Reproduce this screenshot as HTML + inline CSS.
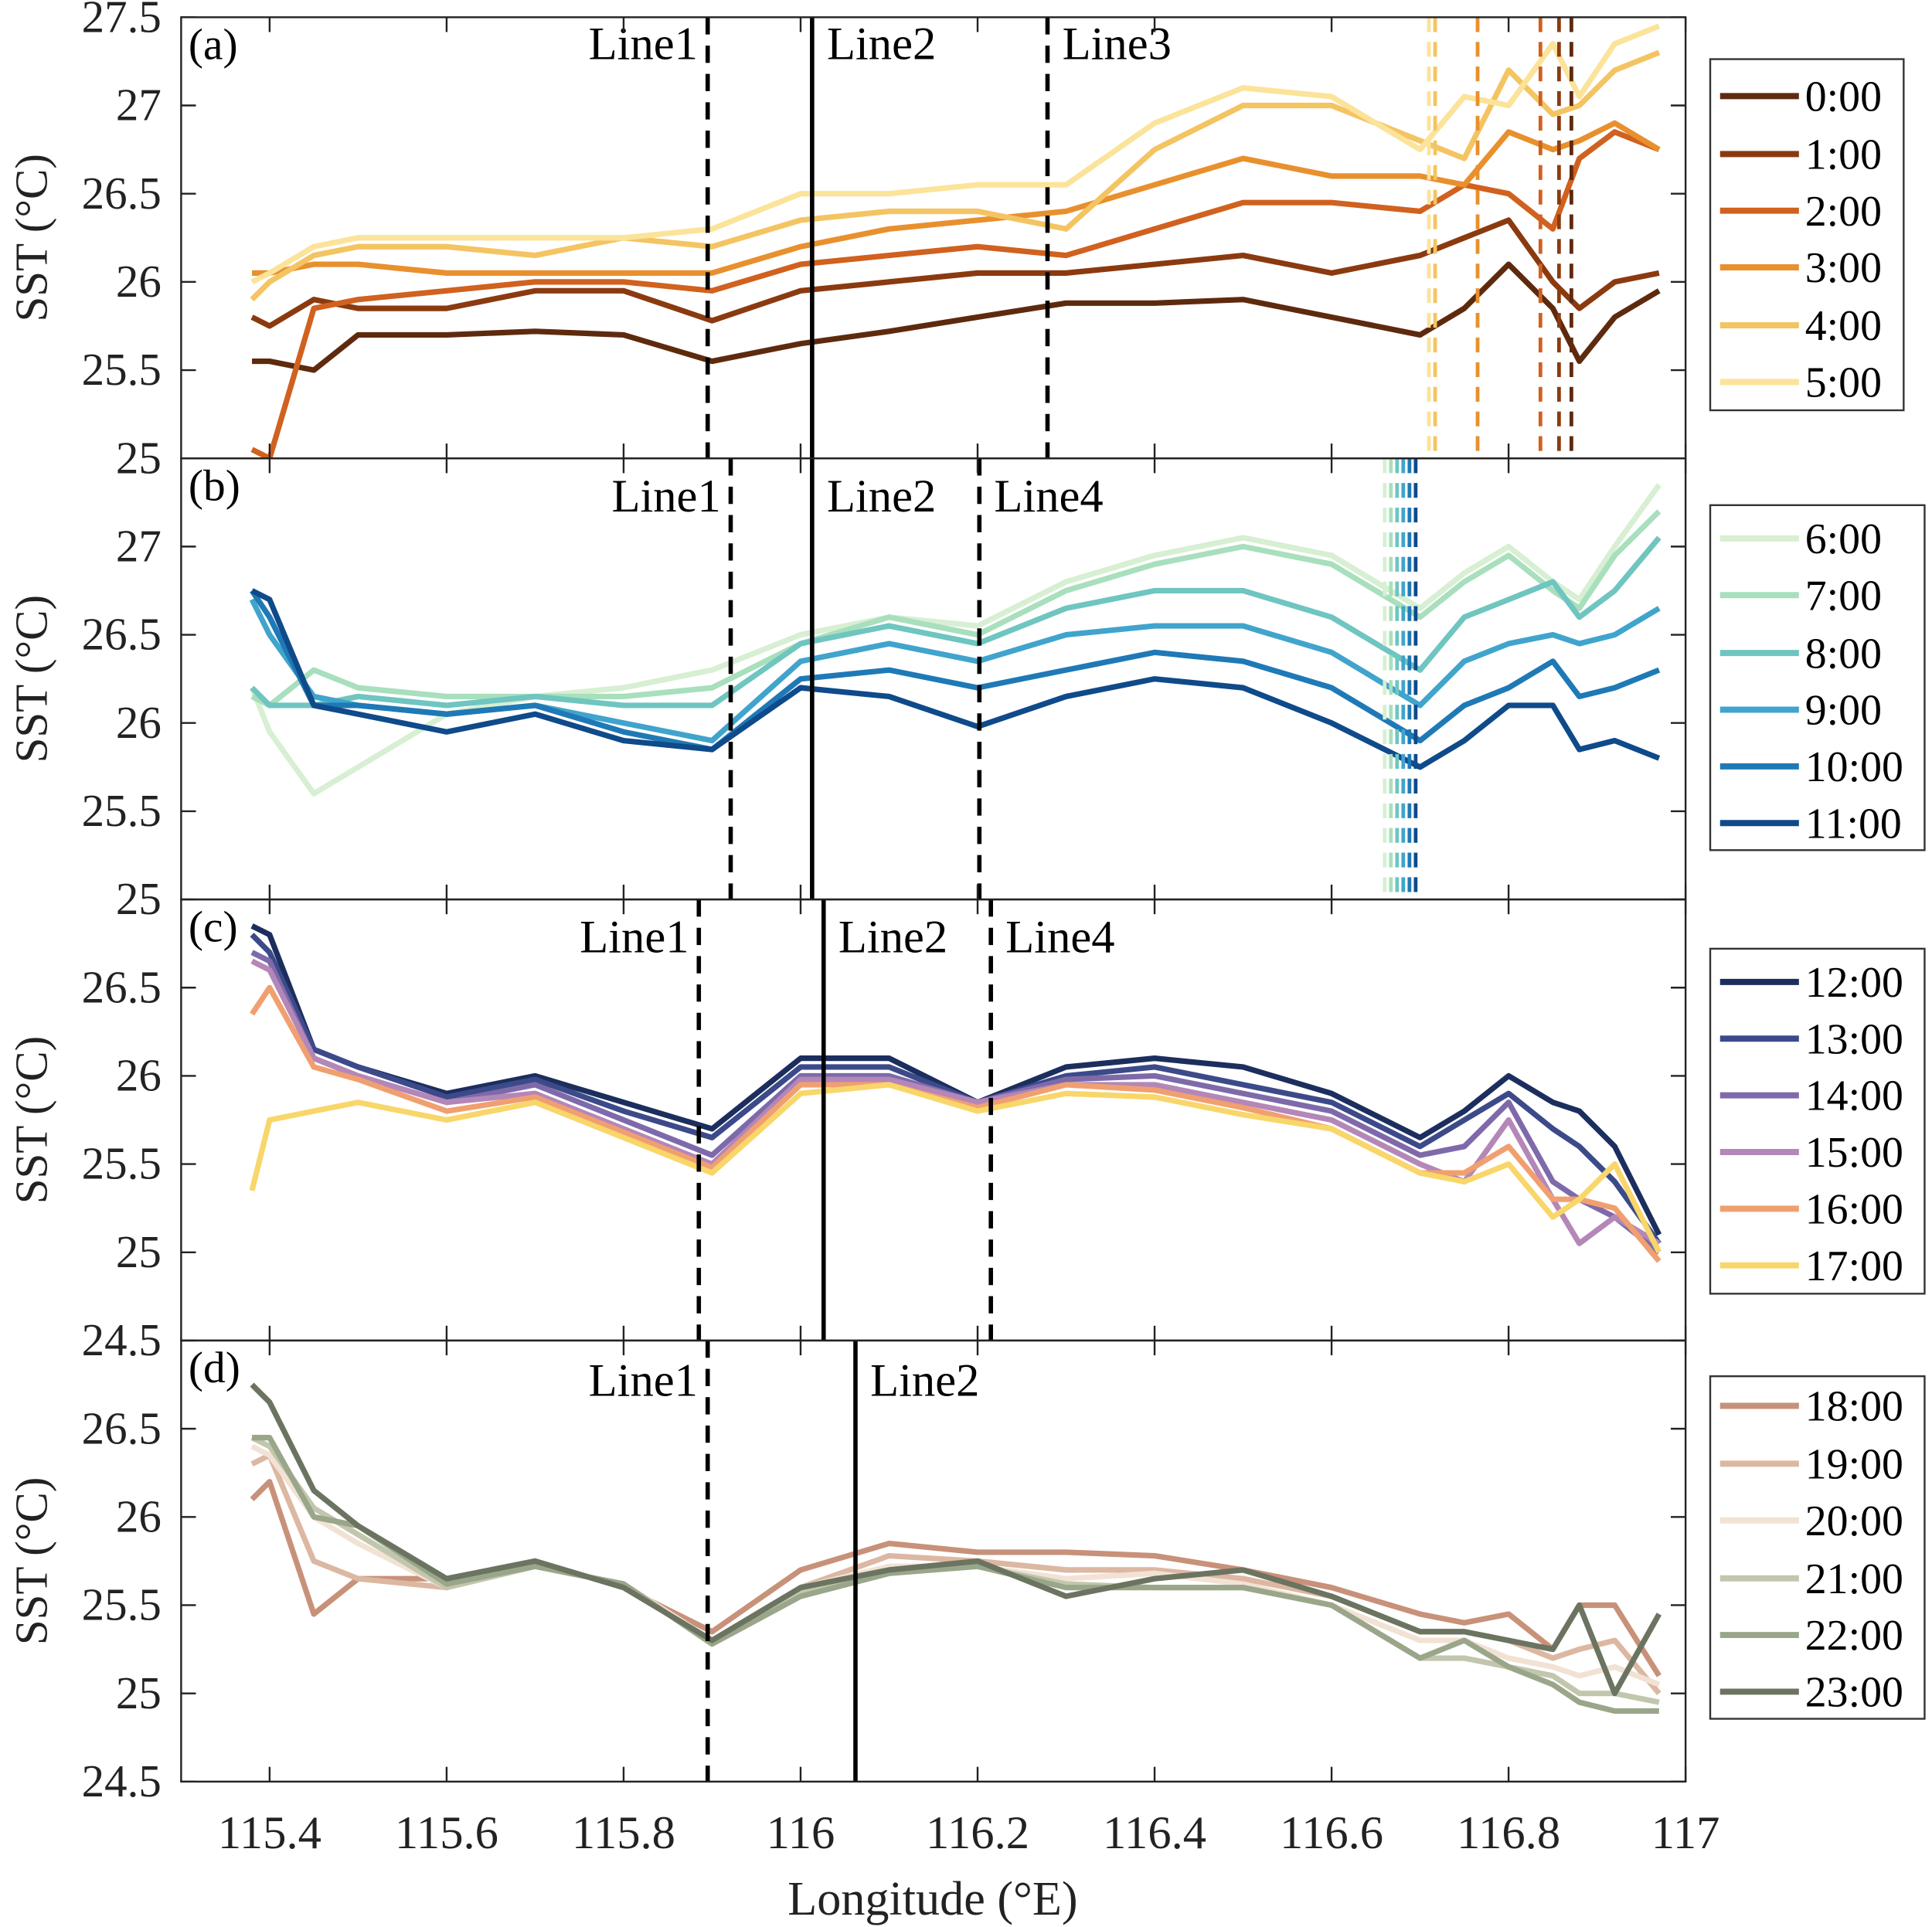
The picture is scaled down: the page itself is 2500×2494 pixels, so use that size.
<!DOCTYPE html>
<html><head><meta charset="utf-8"><style>
html,body{margin:0;padding:0;background:#fff;}
svg{display:block;font-family:"Liberation Serif",serif;}
</style></head><body>
<svg id="chart" width="2500" height="2494" viewBox="0 0 1568 1564" preserveAspectRatio="none" xmlns="http://www.w3.org/2000/svg">
<rect width="1568" height="1564" fill="#fff"/>
</svg>
<script>
const lons=[115.38,115.4,115.45,115.5,115.6,115.7,115.8,115.9,116.0,116.1,116.2,116.3,116.4,116.5,116.6,116.7,116.75,116.8,116.85,116.88,116.92,116.97];
const xTicks=[115.4,115.6,115.8,116,116.2,116.4,116.6,116.8,117];
const xTickLabels=["115.4","115.6","115.8","116","116.2","116.4","116.6","116.8","117"];
const labelsA=["0:00","1:00","2:00","3:00","4:00","5:00"];
const labelsB=["6:00","7:00","8:00","9:00","10:00","11:00"];
const labelsC=["12:00","13:00","14:00","15:00","16:00","17:00"];
const labelsD=["18:00","19:00","20:00","21:00","22:00","23:00"];
const seriesA=[
[25.55,25.55,25.5,25.7,25.7,25.72,25.7,25.55,25.65,25.72,25.8,25.88,25.88,25.9,25.8,25.7,25.85,26.1,25.85,25.55,25.8,25.95],
[25.8,25.75,25.9,25.85,25.85,25.95,25.95,25.78,25.95,26.0,26.05,26.05,26.1,26.15,26.05,26.15,26.25,26.35,26.0,25.85,26.0,26.05],
[25.05,25.0,25.85,25.9,25.95,26.0,26.0,25.95,26.1,26.15,26.2,26.15,26.3,26.45,26.45,26.4,26.55,26.5,26.3,26.7,26.85,26.75],
[26.05,26.05,26.1,26.1,26.05,26.05,26.05,26.05,26.2,26.3,26.35,26.4,26.55,26.7,26.6,26.6,26.55,26.85,26.75,26.8,26.9,26.75],
[25.9,26.0,26.15,26.2,26.2,26.15,26.25,26.2,26.35,26.4,26.4,26.3,26.75,27.0,27.0,26.8,26.7,27.2,26.95,27.0,27.2,27.3],
[26.0,26.05,26.2,26.25,26.25,26.25,26.25,26.3,26.5,26.5,26.55,26.55,26.9,27.1,27.05,26.75,27.05,27.0,27.35,27.05,27.35,27.45]];
const seriesB=[
[26.2,25.95,25.6,25.75,26.05,26.15,26.2,26.3,26.5,26.6,26.55,26.8,26.95,27.05,26.95,26.65,26.85,27.0,26.8,26.7,27.0,27.35],
[26.15,26.1,26.3,26.2,26.15,26.15,26.15,26.2,26.45,26.6,26.5,26.75,26.9,27.0,26.9,26.6,26.8,26.95,26.75,26.65,26.95,27.2],
[26.2,26.1,26.1,26.15,26.1,26.15,26.1,26.1,26.45,26.55,26.45,26.65,26.75,26.75,26.6,26.3,26.6,26.7,26.8,26.6,26.75,27.05],
[26.7,26.5,26.15,26.1,26.05,26.1,26.0,25.9,26.35,26.45,26.35,26.5,26.55,26.55,26.4,26.1,26.35,26.45,26.5,26.45,26.5,26.65],
[26.75,26.6,26.1,26.1,26.05,26.1,25.95,25.85,26.25,26.3,26.2,26.3,26.4,26.35,26.2,25.9,26.1,26.2,26.35,26.15,26.2,26.3],
[26.75,26.7,26.1,26.05,25.95,26.05,25.9,25.85,26.2,26.15,25.98,26.15,26.25,26.2,26.0,25.75,25.9,26.1,26.1,25.85,25.9,25.8]];
const seriesC=[
[26.85,26.8,26.15,26.05,25.9,26.0,25.85,25.7,26.1,26.1,25.85,26.05,26.1,26.05,25.9,25.65,25.8,26.0,25.85,25.8,25.6,25.1],
[26.8,26.7,26.15,26.05,25.88,25.98,25.8,25.65,26.05,26.05,25.85,26.0,26.05,25.95,25.85,25.6,25.75,25.9,25.7,25.6,25.4,25.05],
[26.7,26.65,26.1,26.0,25.85,25.95,25.75,25.55,26.0,26.0,25.85,25.98,26.0,25.9,25.8,25.55,25.6,25.85,25.4,25.3,25.2,25.0],
[26.65,26.6,26.1,26.0,25.85,25.9,25.7,25.5,25.98,25.98,25.85,25.95,25.95,25.85,25.75,25.5,25.4,25.75,25.3,25.05,25.2,25.05],
[26.35,26.5,26.05,25.98,25.8,25.88,25.68,25.48,25.95,25.95,25.82,25.95,25.92,25.82,25.7,25.45,25.45,25.6,25.3,25.3,25.25,24.95],
[25.35,25.75,25.8,25.85,25.75,25.85,25.65,25.45,25.9,25.95,25.8,25.9,25.88,25.78,25.7,25.45,25.4,25.5,25.2,25.3,25.5,25.0]];
const seriesD=[
[26.1,26.2,25.45,25.65,25.65,25.75,25.6,25.35,25.7,25.85,25.8,25.8,25.78,25.7,25.6,25.45,25.4,25.45,25.25,25.5,25.5,25.1],
[26.3,26.35,25.75,25.65,25.6,25.75,25.6,25.3,25.6,25.78,25.75,25.7,25.7,25.65,25.55,25.35,25.35,25.3,25.2,25.25,25.3,25.0],
[26.4,26.35,26.0,25.85,25.6,25.72,25.62,25.3,25.6,25.72,25.72,25.65,25.68,25.62,25.5,25.3,25.3,25.2,25.15,25.1,25.15,25.05],
[26.45,26.4,26.05,25.9,25.6,25.72,25.62,25.28,25.58,25.7,25.72,25.62,25.6,25.6,25.5,25.2,25.2,25.15,25.1,25.0,25.0,24.95],
[26.45,26.45,26.0,25.95,25.62,25.72,25.62,25.28,25.55,25.68,25.72,25.6,25.6,25.6,25.5,25.2,25.3,25.15,25.05,24.95,24.9,24.9],
[26.75,26.65,26.15,25.95,25.65,25.75,25.6,25.3,25.6,25.7,25.75,25.55,25.65,25.7,25.55,25.35,25.35,25.3,25.25,25.5,25.0,25.45]];
const colorsA=["#5e2a0e","#8b3a10","#d0611f","#e8902e","#f4c462","#fbe39a"];
const colorsB=["#d7efd2","#a8dfbd","#6fc5c0","#40a4cc","#1f79b6","#0f4a8a"];
const colorsC=["#1c2e5e","#3c4a8a","#7e6aaa","#b487b8","#f0a070","#f8d66a"];
const colorsD=["#c8917a","#dcb7a2","#f2e2d4","#c2c6ad","#9aa68a","#6b7460"];
const linesA=[{lon:115.895,label:"Line1",dash:true},{lon:116.013,label:"Line2",dash:false},{lon:116.279,label:"Line3",dash:true}];
const linesB=[{lon:115.921,label:"Line1",dash:true},{lon:116.013,label:"Line2",dash:false},{lon:116.202,label:"Line4",dash:true}];
const linesC=[{lon:115.885,label:"Line1",dash:true},{lon:116.026,label:"Line2",dash:false},{lon:116.215,label:"Line4",dash:true}];
const linesD=[{lon:115.895,label:"Line1",dash:true},{lon:116.062,label:"Line2",dash:false}];
const markA=[116.71,116.717,116.765,116.836,116.857,116.871];
const markAColors=["#fbe39a","#f4c462","#e8902e","#d0611f","#8b3a10","#5e2a0e"];
const markB=[116.66,116.667,116.674,116.681,116.688,116.695];

const NS="http://www.w3.org/2000/svg";
const svg=document.getElementById('chart');
const X0=147,X1=1368,LON0=115.3,LON1=117;
const xs=v=>X0+(v-LON0)/(LON1-LON0)*(X1-X0);
function mk(tag,attrs,parent){const e=document.createElementNS(NS,tag);for(const k in attrs)e.setAttribute(k,attrs[k]);(parent||svg).appendChild(e);return e;}
const panels=[
{id:"a",top:14,bot:372,ymin:25,ymax:27.5,ticks:[25,25.5,26,26.5,27,27.5],series:seriesA,labels:labelsA,colors:colorsA,lines:linesA,marks:markA,markColors:markAColors,leg:{x:1388,y:48,w:157,h:285,rows:[78,125,171,217,264,310]},lab:55},
{id:"b",top:372,bot:730,ymin:25,ymax:27.5,ticks:[25,25.5,26,26.5,27],series:seriesB,labels:labelsB,colors:colorsB,lines:linesB,marks:markB,markColors:colorsB,leg:{x:1388,y:410,w:174,h:280,rows:[437,483,530,576,622,668]},lab:415},
{id:"c",top:730,bot:1088,ymin:24.5,ymax:27,ticks:[24.5,25,25.5,26,26.5],series:seriesC,labels:labelsC,colors:colorsC,lines:linesC,marks:[],markColors:[],leg:{x:1388,y:770,w:174,h:280,rows:[797,843,889,935,981,1027]},lab:773},
{id:"d",top:1088,bot:1446,ymin:24.5,ymax:27,ticks:[24.5,25,25.5,26,26.5],series:seriesD,labels:labelsD,colors:colorsD,lines:linesD,marks:[],markColors:[],leg:{x:1388,y:1117,w:174,h:278,rows:[1141,1188,1234,1281,1327,1373]},lab:1133}];
panels.forEach(p=>{
  const g=mk('g',{});
  
  
  const ys=v=>p.bot-(v-p.ymin)/(p.ymax-p.ymin)*(p.bot-p.top);
  const cp=mk('clipPath',{id:'cp'+p.id},g);mk('rect',{x:X0,y:p.top,width:X1-X0,height:p.bot-p.top},cp);
  const sg=mk('g',{'clip-path':'url(#cp'+p.id+')'},g);
  p.series.forEach((s,i)=>{
    const pl=mk('polyline',{points:s.map((v,j)=>xs(lons[j]).toFixed(1)+','+ys(v).toFixed(1)).join(' '),fill:'none',stroke:p.colors[i],'stroke-width':4.5,'stroke-linejoin':'round'},sg);
    
    
  });
  p.marks.forEach((m,i)=>{
    const l=mk('line',{x1:xs(m),x2:xs(m),y1:p.top,y2:p.bot,stroke:p.markColors[i],'stroke-width':3,'stroke-dasharray':'12,8'},g);
    
    
  });
  p.lines.forEach(L=>{
    const x=xs(L.lon);
    const l=mk('line',{x1:x,x2:x,y1:p.top,y2:p.bot,stroke:'#000','stroke-width':3.5},g);
    if(L.dash)l.setAttribute('stroke-dasharray','14,9');
    
    
    const t=mk('text',{x:x+(L.dash&&L.label!=="Line3"&&L.label!=="Line4"?-8:12),y:p.lab+(p.id==="a"?-7:0),'font-size':38,'text-anchor':(L.dash&&L.label==="Line1")?'end':'start'},g);
    t.textContent=L.label;
    
    
  });
  mk('rect',{x:X0,y:p.top,width:X1-X0,height:p.bot-p.top,fill:'none',stroke:'#222','stroke-width':1.5},g);
  p.ticks.forEach(t=>{
    const y=ys(t);
    mk('line',{x1:X0,x2:X0+12,y1:y,y2:y,stroke:'#222','stroke-width':1.5},g);
    mk('line',{x1:X1,x2:X1-12,y1:y,y2:y,stroke:'#222','stroke-width':1.5},g);
    const tx=mk('text',{x:131,y:y+12,'font-size':37,'text-anchor':'end',fill:'#222'},g);
    tx.textContent=String(t);
    
    
  });
  xTicks.forEach(t=>{
    mk('line',{x1:xs(t),x2:xs(t),y1:p.bot,y2:p.bot-12,stroke:'#222','stroke-width':1.5},g);
    mk('line',{x1:xs(t),x2:xs(t),y1:p.top,y2:p.top+12,stroke:'#222','stroke-width':1.5},g);
  });
  const pl=mk('text',{x:153,y:p.top+34,'font-size':36},g);pl.textContent='('+p.id+')';
  
  
  const cy=(p.top+p.bot)/2;
  const yt=mk('text',{x:38,y:cy,'font-size':37,'text-anchor':'middle',transform:'rotate(-90 38 '+cy+')',fill:'#222'},g);
  yt.textContent='SST (°C)';
  
  
  const lg=mk('g',{},g);
  
  
  mk('rect',{x:p.leg.x,y:p.leg.y,width:p.leg.w,height:p.leg.h,fill:'#fff',stroke:'#333','stroke-width':1.5},lg);
  p.leg.rows.forEach((ry,i)=>{
    const e=mk('g',{},lg);
    
    
    mk('line',{x1:p.leg.x+8,x2:p.leg.x+72,y1:ry,y2:ry,stroke:p.colors[i],'stroke-width':5},e);
    const t=mk('text',{x:p.leg.x+77,y:ry+12,'font-size':35},e);t.textContent=p.labels[i];
  });
});
xTicks.forEach((t,i)=>{
  const tx=mk('text',{x:xs(t),y:1500,'font-size':38,'text-anchor':'middle',fill:'#222'});
  tx.textContent=xTickLabels[i];
  
  
});
const xt=mk('text',{x:757,y:1554,'font-size':39,'text-anchor':'middle',fill:'#222'});
xt.textContent='Longitude (°E)';


</script>
</body></html>
